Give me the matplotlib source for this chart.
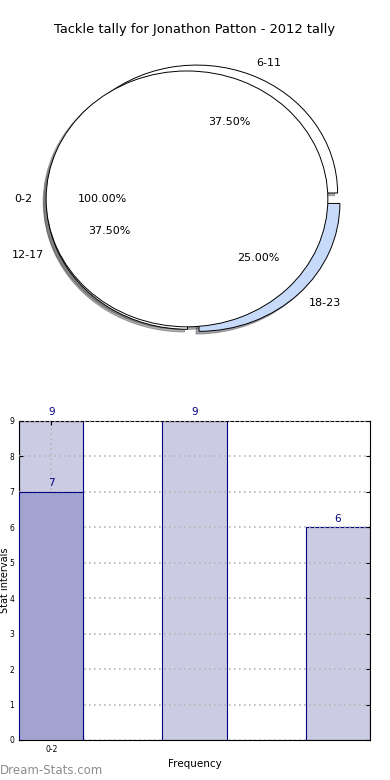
import matplotlib
matplotlib.use('Agg')
import matplotlib.pyplot as plt

# pie data
pie_labels = ['6-11', '12-17', '18-23']
pie_values = [3, 3, 2]
pie_colors = ['white', 'white', '#c8dafa']
top_labels = ['0-2']
top_values = [1]

# bar data
bar_pos = [0, 1, 2]
bar_light = [9, 9, 6]
bar_dark = [7]
tick_labels = ['0-2']

fig = plt.figure(figsize=(3.9, 7.8), dpi=100)

ax1 = fig.add_axes([0.046, 0.540, 0.903, 0.410])
wp = dict(edgecolor='black', linewidth=0.7)
shadow = dict(ox=-0.015, oy=-0.015, alpha=0.45)
ax1.pie(pie_values, labels=pie_labels, colors=pie_colors, autopct='%.2f%%',
        explode=[0.05] * len(pie_values), shadow=shadow, wedgeprops=wp,
        textprops=dict(fontsize=8))
ax1.pie(top_values, labels=top_labels, colors=['white'], autopct='%.2f%%',
        explode=[0.05], shadow=shadow, wedgeprops=wp,
        textprops=dict(fontsize=8))
ax1.set_xlim(-1.25, 1.25)
ax1.set_ylim(-1.25, 1.25)
ax1.set_aspect('auto')
fig.text(0.5, 0.962, 'Tackle tally for Jonathon Patton - 2012 tally',
         ha='center', va='center', fontsize=9.4)

ax2 = fig.add_axes([0.0487, 0.0513, 0.9, 0.409])
w = 0.45
ax2.bar(bar_pos, bar_light, width=w, align='edge', color='#cbcbe3',
        edgecolor='#000080', linewidth=0.8, zorder=2)
ax2.bar(bar_pos[:len(bar_dark)], bar_dark, width=w, align='edge', color='#a3a3d0',
        edgecolor='#000080', linewidth=0.8, zorder=3)
for x, h in zip(bar_pos, bar_light):
    ax2.text(x + w / 2, h + 0.1, str(h), ha='center', va='bottom',
             color='#000080', fontsize=7.5)
for x, h in zip(bar_pos, bar_dark):
    ax2.text(x + w / 2, h + 0.1, str(h), ha='center', va='bottom',
             color='#000080', fontsize=7.5, zorder=4)
ax2.set_xlim(0, 2 + w)
ax2.set_ylim(0, 9)
ax2.set_yticks(range(10))
ax2.set_xticks([w / 2])
ax2.set_xticklabels(tick_labels)
ax2.tick_params(labelsize=5.5, direction='in', right=True, top=True, length=3)
ax2.grid(True, linestyle=(0, (1, 2)), color='#b8b8b8', linewidth=1.2, zorder=5)
ax2.set_axisbelow(False)
ax2.set_xlabel('Frequency', fontsize=7.5)
ax2.set_ylabel('Stat intervals', fontsize=7)
ax2.yaxis.set_label_coords(-0.026, 0.5)
fig.text(0.0, 0.012, 'Dream-Stats.com', color='#8c8c8c', fontsize=8.5,
         ha='left', va='center')

fig.savefig('out.png', dpi=100)
